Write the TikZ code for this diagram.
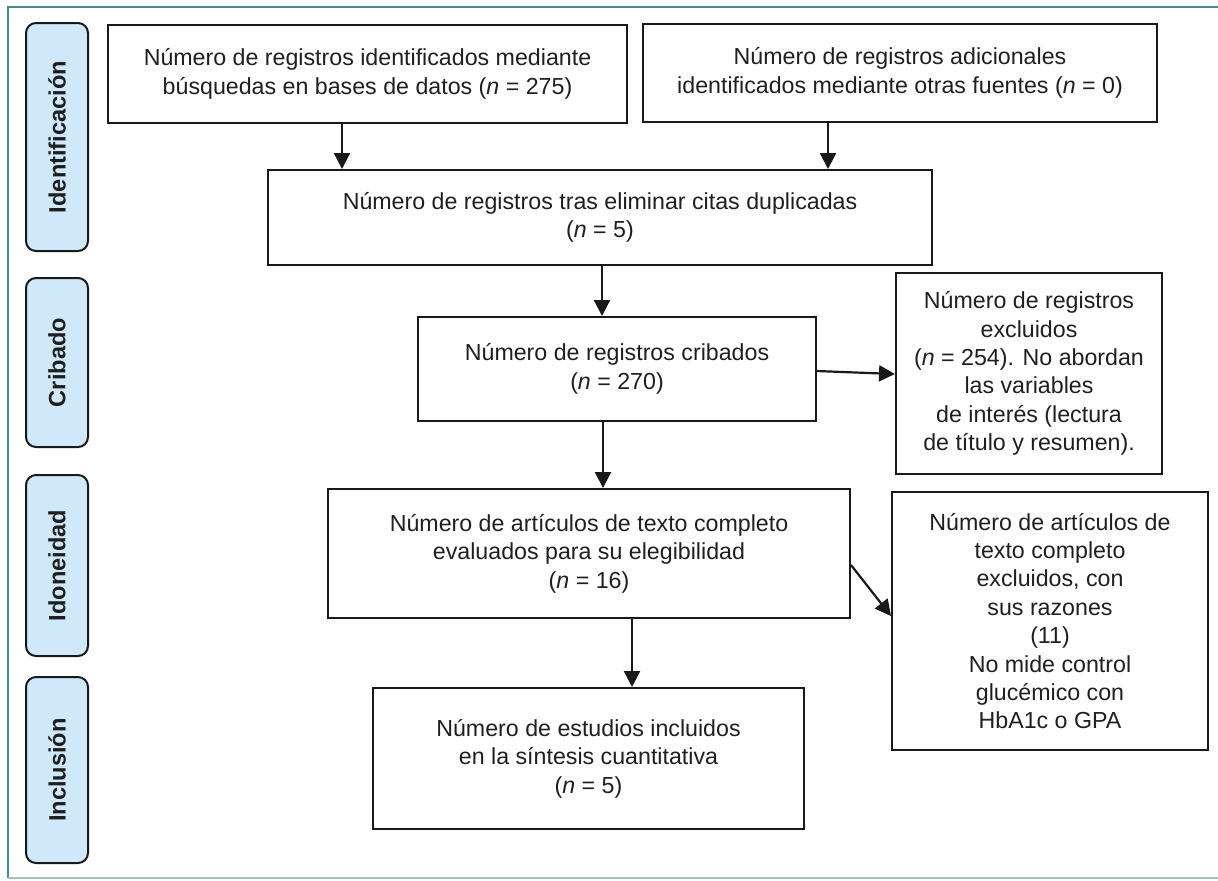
\documentclass[tikz,border=0pt]{standalone}
\usepackage{fontspec}
\setmainfont{Liberation Sans}
\usetikzlibrary{arrows.meta}
\definecolor{frameline}{HTML}{4F8A8B}
\definecolor{framelow}{HTML}{A7BFC0}
\definecolor{tabfill}{HTML}{CFE9FA}
\begin{document}
\begin{tikzpicture}[x=0.5pt,y=-0.5pt,
    box/.style={draw=black!90,line width=1pt,align=center,inner sep=0pt,
      text=black!88,font=\fontsize{11.6}{14.2}\selectfont},
    tabbox/.style={draw=black!90,fill=tabfill,line width=1pt,rounded corners=5pt,
      rotate=90,minimum height=31pt,inner sep=0pt,text=black!88,
      font=\bfseries\fontsize{11.8}{14.2}\selectfont},
    arr/.style={-{Triangle[length=8pt,width=8pt]},line width=1.1pt,black!90}]
      \useasboundingbox (0,0) rectangle (1218,880);
      \draw[frameline,line width=1pt] (1218,7) -- (8,7) -- (8,878);
      \draw[framelow,line width=1pt] (8,878) -- (1218,878);
      \path
        (57,137) node[tabbox,minimum width=114pt] (id){Identificación}
        (57,362.5) node[tabbox,minimum width=84.5pt] (cr){Cribado}
        (57,565.5) node[tabbox,minimum width=90.5pt] (el){Idoneidad}
        (57,770) node[tabbox,minimum width=93pt] (in){Inclusión};
      \path
        (367.5,74) node[box,minimum width=259.5pt,minimum height=49pt] (db){Número de registros identificados mediante\\búsquedas en bases de datos (\textit{n} = 275)}
        (900,73) node[box,minimum width=257pt,minimum height=49pt] (other){Número de registros adicionales\\identificados mediante otras fuentes (\textit{n} = 0)}
        (600,217.5) node[box,minimum width=332pt,minimum height=47.5pt] (dup){Número de registros tras eliminar citas duplicadas\\(\textit{n} = 5)}
        (617,369) node[box,minimum width=199pt,minimum height=52pt] (scr){Número de registros cribados\\(\textit{n} = 270)}
        (1029,373.5) node[box,minimum width=133pt,minimum height=100.5pt] (exc){Número de registros\\excluidos\\(\textit{n} = 254). No abordan\\las variables\\de interés (lectura\\de título y resumen).}
        (589,553.5) node[box,minimum width=261pt,minimum height=64.5pt] (full){Número de artículos de texto completo\\evaluados para su elegibilidad\\(\textit{n} = 16)}
        (1050,621) node[box,minimum width=158pt,minimum height=129pt] (why){Número de artículos de\\texto completo\\excluidos, con\\sus razones\\(11)\\No mide control\\glucémico con\\HbA1c o GPA}
        (588.5,758.5) node[box,minimum width=215.5pt,minimum height=70.5pt] (inc){Número de estudios incluidos\\en la síntesis cuantitativa\\(\textit{n} = 5)};
      \begin{scope}[arr]
        \draw (db.south -| 342,0) to (dup.north -| 342,0);
        \draw (other.south -| 828,0) to (dup.north -| 828,0);
        \draw (dup.south -| 602,0) to (scr.north -| 602,0);
        \draw (scr.east |- 0,371) to (exc.west |- 0,374);
        \draw (scr.south -| 603,0) to (full.north -| 603,0);
        \draw (full.east |- 0,565) to (why.west |- 0,616);
        \draw (full.south -| 632,0) to (inc.north -| 632,0);
      \end{scope}
    \end{tikzpicture}
\end{document}
